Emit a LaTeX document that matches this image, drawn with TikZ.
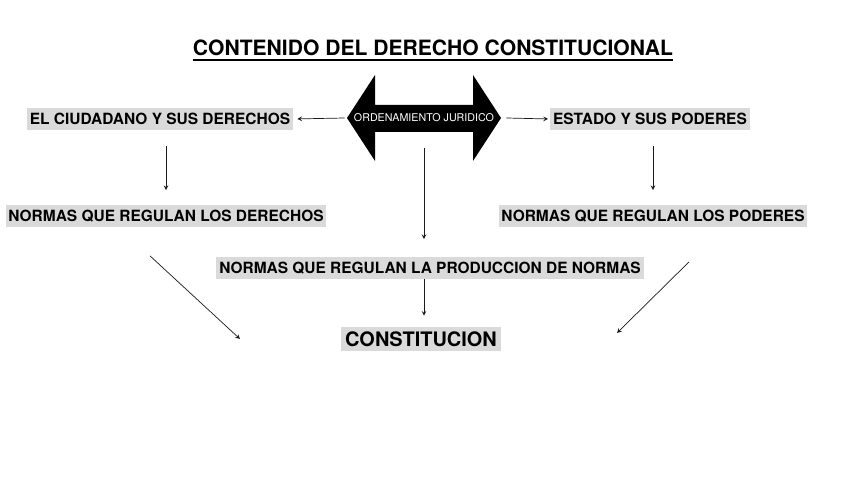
\documentclass[tikz,border=0pt]{standalone}
\usepackage{xcolor}
\usepackage{fontspec}
\setmainfont{TeX Gyre Heros}
\usepackage{tikz}
\usetikzlibrary{positioning}
\definecolor{cdcGray}{HTML}{DADADA}
\definecolor{cdcInk}{HTML}{1A1A1A}
\tikzset{
  etiqueta/.style={rectangle,fill=cdcGray,inner xsep=2pt,inner ysep=0pt,
    minimum height=0.53cm,font=\fontsize{11}{13}\selectfont\bfseries},
  norma/.style={etiqueta},
  principal/.style={rectangle,fill=cdcGray,inner xsep=3pt,inner ysep=0pt,
    minimum height=0.6cm,font=\fontsize{14.2}{17}\selectfont\bfseries},
  titulo/.style={inner sep=0pt,font=\fontsize{15}{17}\selectfont\bfseries},
  ordena/.style={inner sep=0pt,minimum height=0.675cm,text=white,
    font=\fontsize{7.6}{9}\selectfont},
  arrow/.style={->,>=stealth,line width=0.5pt,draw=cdcInk}
}
\begin{document}
\begin{tikzpicture}[node distance=0.6cm and 0.3cm]
\useasboundingbox (0,0) rectangle (21.2,11.925);
\node[titulo] (titulo) at (10.825,10.725) {CONTENIDO DEL DERECHO CONSTITUCIONAL};
\draw[line width=1.3pt] ([yshift=-3pt]titulo.base west) -- ([yshift=-3pt]titulo.base east);
% flecha doble
\fill[black] (8.675,8.975) -- (9.375,10.05) -- (9.375,9.3) -- (11.825,9.3)
  -- (11.825,10.05) -- (12.525,8.975) -- (11.825,7.9) -- (11.825,8.625)
  -- (9.375,8.625) -- (9.375,7.9) -- cycle;
\node[ordena] (ordjur) at (10.6,8.975) {ORDENAMIENTO JURIDICO};
\node[etiqueta] (ciudadano) at (4.0,8.95) {EL CIUDADANO Y SUS DERECHOS};
\node[etiqueta] (estado) at (16.25,8.95) {ESTADO Y SUS PODERES};
\node[norma] (ndere) at (4.15,6.525) {NORMAS QUE REGULAN LOS DERECHOS};
\node[norma] (npode) at (16.325,6.525) {NORMAS QUE REGULAN LOS PODERES};
\node[norma] (nprod) at (10.75,5.225) {NORMAS QUE REGULAN LA PRODUCCION DE NORMAS};
\node[principal] (const) at (10.525,3.45) {CONSTITUCION};

\draw[arrow,shorten >=0.1cm] ([xshift=-0.225cm]ordjur.west) -- (ciudadano.east);
\draw[arrow,shorten >=0.05cm] ([xshift=0.3cm]ordjur.east) -- (estado.west);
\draw[arrow,shorten <=0.4cm,shorten >=0.375cm] (ndere.north |- ciudadano.south) -- (ndere.north);
\draw[arrow,shorten <=0.4cm,shorten >=0.375cm] (npode.north |- estado.south) -- (npode.north);
\draw[arrow,shorten <=0.4cm,shorten >=0.45cm] (ordjur.south) -- (ordjur.south |- nprod.north);
\draw[arrow,shorten >=0.275cm] (nprod.south -| ordjur) -- (const.north -| ordjur);
\draw[arrow] ([xshift=-0.4cm,yshift=-0.725cm]ndere.south) -- ([xshift=-4.525cm]const.center);
\draw[arrow] ([xshift=0.9cm,yshift=-0.875cm]npode.south) -- ([xshift=4.9cm,yshift=0.15cm]const.center);
\end{tikzpicture}
\end{document}
